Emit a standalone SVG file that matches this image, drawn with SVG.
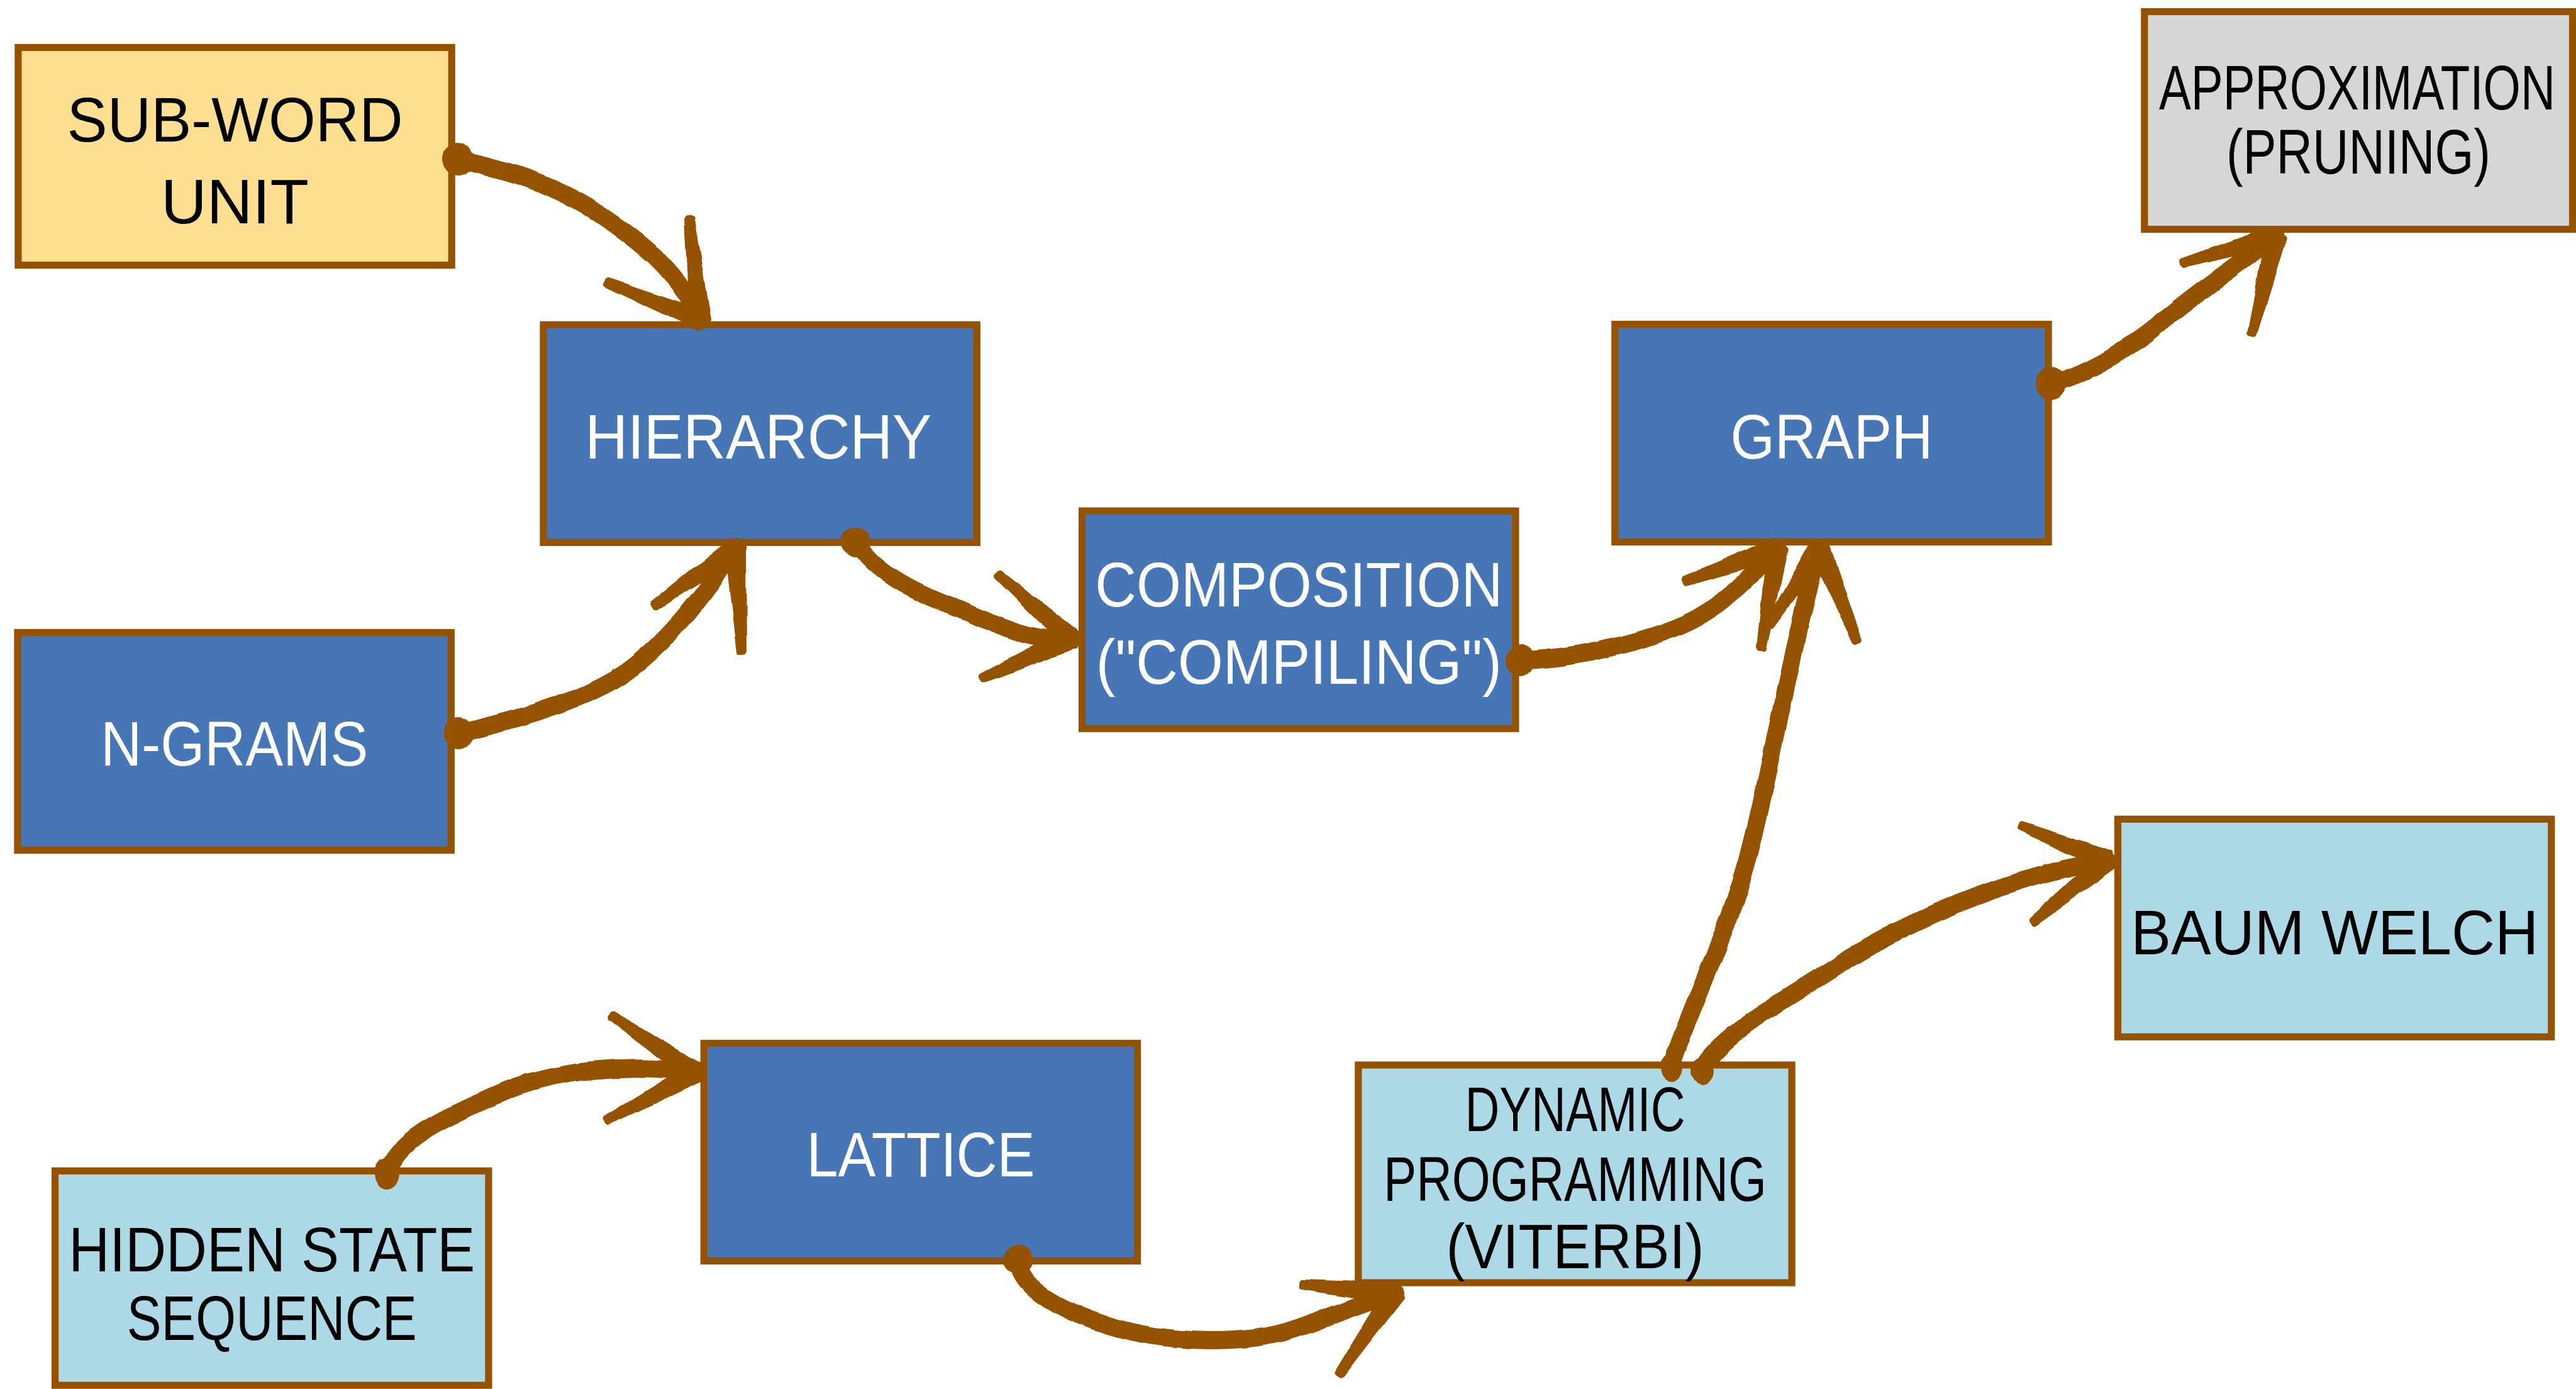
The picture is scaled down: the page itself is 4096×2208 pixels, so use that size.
<svg xmlns="http://www.w3.org/2000/svg" width="4096" height="2208" viewBox="0 0 4096 2208">
<defs>
<style>
.box{stroke:#955200;stroke-width:11.2}
.dark{fill:#4676b5}
.light{fill:#add8e6}
.yellow{fill:#fedf91}
.grey{fill:#d6d6d6}
.lbl{font-family:"Liberation Sans",Arial,sans-serif;font-size:100px;text-anchor:middle}
.w{fill:#ffffff}
.k{fill:#000000}
.shaft{fill:none;stroke:#955200;stroke-width:28;stroke-linecap:round;stroke-linejoin:round}
.head{fill:#955200;stroke:#955200;stroke-width:10;stroke-linejoin:round}
.tail{fill:#955200}
</style>
<filter id="wobble" x="-5%" y="-5%" width="110%" height="110%">
<feTurbulence type="fractalNoise" baseFrequency="0.02" numOctaves="2" seed="3" result="n"/>
<feDisplacementMap in="SourceGraphic" in2="n" scale="7" xChannelSelector="R" yChannelSelector="G"/>
</filter>
</defs>
<rect width="4096" height="2208" fill="#ffffff"/>

<g id="subword">
<rect class="box yellow" x="28.9" y="75.5" width="689.3" height="346"/>
<text class="lbl k" x="373.6" y="225" textLength="534" lengthAdjust="spacingAndGlyphs">SUB-WORD</text>
<text class="lbl k" x="373.6" y="355" textLength="235" lengthAdjust="spacingAndGlyphs">UNIT</text>
</g>
<g id="hierarchy">
<rect class="box dark" x="864" y="516.3" width="689.3" height="346"/>
<text class="lbl w" x="1206" y="729" textLength="551" lengthAdjust="spacingAndGlyphs">HIERARCHY</text>
</g>
<g id="ngrams">
<rect class="box dark" x="28" y="1005.5" width="689.3" height="346"/>
<text class="lbl w" x="372.7" y="1217" textLength="425" lengthAdjust="spacingAndGlyphs">N-GRAMS</text>
</g>
<g id="composition">
<rect class="box dark" x="1720.6" y="812.2" width="689.3" height="346"/>
<text class="lbl w" x="2065.3" y="964" textLength="648" lengthAdjust="spacingAndGlyphs">COMPOSITION</text>
<text class="lbl w" x="2065.3" y="1087" textLength="645" lengthAdjust="spacingAndGlyphs">("COMPILING")</text>
</g>
<g id="graph">
<rect class="box dark" x="2567.8" y="515.5" width="689.3" height="346"/>
<text class="lbl w" x="2912.5" y="729" textLength="322" lengthAdjust="spacingAndGlyphs">GRAPH</text>
</g>
<g id="approximation">
<rect class="box grey" x="3409.8" y="18.5" width="680.7" height="346"/>
<text class="lbl k" x="3748" y="174" font-size="78" textLength="630" lengthAdjust="spacingAndGlyphs">APPROXIMATION</text>
<text class="lbl k" x="3750" y="276" font-size="82" textLength="420" lengthAdjust="spacingAndGlyphs">(PRUNING)</text>
</g>
<g id="baumwelch">
<rect class="box light" x="3367.5" y="1302.2" width="689.3" height="346"/>
<text class="lbl k" x="3712.2" y="1517" textLength="648" lengthAdjust="spacingAndGlyphs">BAUM WELCH</text>
</g>
<g id="dynamic">
<rect class="box light" x="2159.8" y="1693" width="689.3" height="346"/>
<text class="lbl k" x="2504.5" y="1798" textLength="350" lengthAdjust="spacingAndGlyphs">DYNAMIC</text>
<text class="lbl k" x="2504.5" y="1909" textLength="609" lengthAdjust="spacingAndGlyphs">PROGRAMMING</text>
<text class="lbl k" x="2504.5" y="2016" textLength="410" lengthAdjust="spacingAndGlyphs">(VITERBI)</text>
</g>
<g id="lattice">
<rect class="box dark" x="1119.3" y="1658.5" width="689.3" height="346"/>
<text class="lbl w" x="1464" y="1870" textLength="363" lengthAdjust="spacingAndGlyphs">LATTICE</text>
</g>
<g id="hiddenstate">
<rect class="box light" x="87.6" y="1861.3" width="689.3" height="340.8"/>
<text class="lbl k" x="432.3" y="2021" textLength="646" lengthAdjust="spacingAndGlyphs">HIDDEN STATE</text>
<text class="lbl k" x="432.3" y="2130" textLength="461" lengthAdjust="spacingAndGlyphs">SEQUENCE</text>
</g>

<g id="connectors" filter="url(#wobble)">
<g id="c-subword-hierarchy">
<ellipse class="tail" cx="727" cy="252" rx="24" ry="26"/>
<path class="shaft" d="M 725 252 C 800 270, 880 290, 960 345 S 1080 440, 1114 509"/>
<path class="head" d="M 1125.9 507.7 L 1100 347.7 L 1094 348.3 L 1102.1 510.3 Z"/>
<path class="head" d="M 1118.5 497.9 L 967.1 446.2 L 964.9 451.8 L 1109.5 520.1 Z"/>
</g>
<g id="c-ngrams-hierarchy">
<ellipse class="tail" cx="729" cy="1166" rx="24" ry="26"/>
<path class="shaft" d="M 729 1166 C 790 1150, 880 1130, 960 1090 S 1110 960, 1170 870"/>
<path class="head" d="M 1182 869.3 L 1183 1034.8 L 1177 1035.2 L 1158 870.7 Z"/>
<path class="head" d="M 1177 879.8 L 1041.7 965.4 L 1038.3 960.6 L 1163 860.2 Z"/>
</g>
<g id="c-hierarchy-composition">
<ellipse class="tail" cx="1361" cy="862" rx="24" ry="24"/>
<path class="shaft" d="M 1361 858 C 1380 900, 1440 935, 1500 958 S 1640 1025, 1703 1015"/>
<path class="head" d="M 1710.9 1006 L 1590 911.7 L 1586 916.3 L 1695.1 1024 Z"/>
<path class="head" d="M 1707.9 1026 L 1563.2 1080.7 L 1560.8 1075.3 L 1698.1 1004 Z"/>
</g>
<g id="c-composition-graph">
<ellipse class="tail" cx="2418" cy="1050" rx="24" ry="26"/>
<path class="shaft" d="M 2416 1050 C 2480 1050, 2580 1030, 2660 1000 S 2780 915, 2826 872"/>
<path class="head" d="M 2830 883.3 L 2682 925.8 L 2680 920.2 L 2822 860.7 Z"/>
<path class="head" d="M 2837.8 873.9 L 2804 1029.5 L 2798 1028.5 L 2814.2 870.1 Z"/>
</g>
<g id="c-dynamic-graph">
<ellipse class="tail" cx="2658" cy="1697" rx="18" ry="22"/>
<path class="shaft" d="M 2657 1695 C 2680 1620, 2740 1500, 2775 1380 S 2840 1060, 2893 872"/>
<path class="head" d="M 2903.1 878.5 L 2817.5 993.6 L 2812.5 990.4 L 2882.9 865.5 Z"/>
<path class="head" d="M 2904.1 867.4 L 2955.8 1016.9 L 2950.2 1019.1 L 2881.9 876.6 Z"/>
</g>
<g id="c-dynamic-baumwelch">
<ellipse class="tail" cx="2706" cy="1702" rx="18" ry="22"/>
<path class="shaft" d="M 2705 1700 C 2740 1640, 2840 1590, 2930 1530 S 3200 1390, 3352 1368"/>
<path class="head" d="M 3356.4 1356.8 L 3215.1 1311.2 L 3212.9 1316.8 L 3347.6 1379.2 Z"/>
<path class="head" d="M 3359.5 1377.3 L 3233.9 1467.3 L 3230.1 1462.7 L 3344.5 1358.7 Z"/>
</g>
<g id="c-graph-approximation">
<ellipse class="tail" cx="3261" cy="610" rx="24" ry="26"/>
<path class="shaft" d="M 3261 610 C 3310 600, 3380 560, 3440 510 S 3560 420, 3619 375"/>
<path class="head" d="M 3622.3 386.5 L 3471.8 420.9 L 3470.2 415.1 L 3615.7 363.5 Z"/>
<path class="head" d="M 3630.7 377.8 L 3583.9 531.7 L 3578.1 530.3 L 3607.3 372.2 Z"/>
</g>
<g id="c-hidden-lattice">
<ellipse class="tail" cx="614" cy="1866" rx="20" ry="26"/>
<path class="shaft" d="M 613 1870 C 630 1810, 700 1780, 790 1740 S 1000 1690, 1107 1705"/>
<path class="head" d="M 1113.7 1695 L 974.7 1612.5 L 971.3 1617.5 L 1100.3 1715 Z"/>
<path class="head" d="M 1112.7 1715.6 L 966.4 1784.6 L 963.6 1779.4 L 1101.3 1694.4 Z"/>
</g>
<g id="c-lattice-dynamic">
<ellipse class="tail" cx="1619" cy="2003" rx="24" ry="24"/>
<path class="shaft" d="M 1619 1999 C 1615 2050, 1700 2090, 1780 2112 S 1980 2140, 2060 2112 S 2170 2070, 2218 2056"/>
<path class="head" d="M 2219.1 2044.1 L 2070.3 2039 L 2069.7 2045 L 2216.9 2067.9 Z"/>
<path class="head" d="M 2227.9 2062.8 L 2131.5 2186.7 L 2126.5 2183.3 L 2208.1 2049.2 Z"/>
</g>
</g>
</svg>
